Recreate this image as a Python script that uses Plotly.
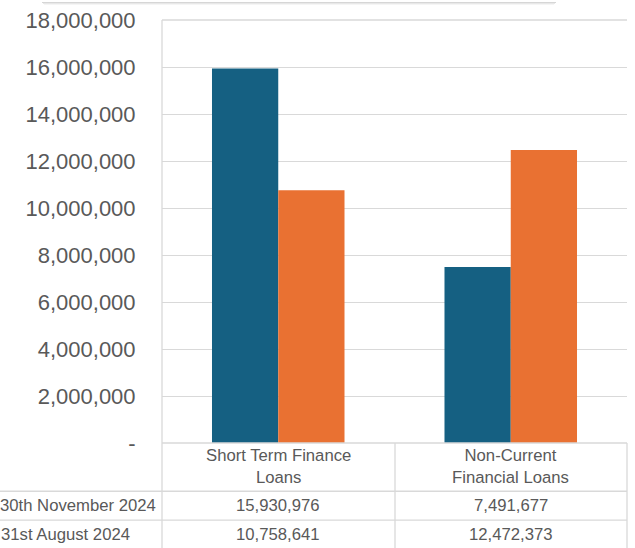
import plotly.graph_objects as go

categories = ["Short Term Finance Loans", "Non-Current Financial Loans"]
category_labels = ["Short Term Finance<br>Loans", "Non-Current<br>Financial Loans"]
series_names = ["30th November 2024", "31st August 2024"]
nov_2024 = [15930976, 7491677]
aug_2024 = [10758641, 12472373]
tick_values = [0, 2000000, 4000000, 6000000, 8000000, 10000000, 12000000, 14000000, 16000000, 18000000]
tick_labels = ["-", "2,000,000", "4,000,000", "6,000,000", "8,000,000", "10,000,000",
               "12,000,000", "14,000,000", "16,000,000", "18,000,000"]

W, H = 635, 548
L, R, T, B = 162, 627, 18, 443
FONT = "Liberation Sans"
TXT = "#595959"
GRID = "#D9D9D9"
BLUE = "#156082"
ORANGE = "#E97132"
TS = 16.7


def px(x):
    return (x - L) / (R - L)


def py(y):
    return (B - y) / (B - T)


fig = go.Figure()
fig.add_trace(go.Bar(x=categories, y=nov_2024, name=series_names[0], marker_color=BLUE,
                     marker_line_width=0, hoverinfo="skip"))
fig.add_trace(go.Bar(x=categories, y=aug_2024, name=series_names[1], marker_color=ORANGE,
                     marker_line_width=0, hoverinfo="skip"))

shapes = []


def line(x0, y0, x1, y1, color=GRID, width=1.3):
    shapes.append(dict(type="line", xref="paper", yref="paper",
                       x0=px(x0), y0=py(y0), x1=px(x1), y1=py(y1),
                       line=dict(color=color, width=width), layer="above"))


# top of plot area and table grid
line(L, T, R, T)
line(L, B, R, B)
line(0, 491.5, R, 491.5)
line(0, 520.5, R, 520.5)
line(L, T, L, 560)
line(395, B, 395, 560)
line(R, B, R, 560)

# top shadow
for i, a in enumerate([0.16, 0.09, 0.04]):
    shapes.append(dict(type="rect", xref="paper", yref="paper",
                       x0=px(42 + i), x1=px(556 - i), y0=py(i), y1=py(i + 1),
                       fillcolor=f"rgba(0,0,0,{a})", line=dict(width=0), layer="above"))

annotations = []
for cat, lab in zip(categories, category_labels):
    annotations.append(dict(x=cat, xref="x", y=py(467), yref="paper", text=lab,
                            showarrow=False, font=dict(family=FONT, size=TS, color=TXT),
                            xanchor="center", yanchor="middle", align="center"))
for cat, v in zip(categories, nov_2024):
    annotations.append(dict(x=cat, xref="x", y=py(506), yref="paper", text=f"{v:,}",
                            showarrow=False, font=dict(family=FONT, size=TS, color=TXT),
                            xanchor="center", yanchor="middle"))
for cat, v in zip(categories, aug_2024):
    annotations.append(dict(x=cat, xref="x", y=py(534.5), yref="paper", text=f"{v:,}",
                            showarrow=False, font=dict(family=FONT, size=TS, color=TXT),
                            xanchor="center", yanchor="middle"))
for name, yy in zip(series_names, [506, 534.5]):
    if name.startswith("30th"):
        annotations.append(dict(x=px(158), xref="paper", y=py(yy), yref="paper", text=name,
                                showarrow=False, font=dict(family=FONT, size=TS, color=TXT),
                                xanchor="right", yanchor="middle"))
    else:
        annotations.append(dict(x=px(-1), xref="paper", y=py(yy), yref="paper", text=name,
                                showarrow=False, font=dict(family=FONT, size=TS, color=TXT),
                                xanchor="left", yanchor="middle"))

fig.update_layout(
    width=W, height=H,
    margin=dict(l=L, r=W - R, t=T, b=H - B, pad=0),
    paper_bgcolor="white", plot_bgcolor="white",
    barmode="group", bargap=0.43, bargroupgap=0,
    showlegend=False, hovermode=False,
    shapes=shapes, annotations=annotations,
    xaxis=dict(showticklabels=False, showgrid=False, zeroline=False, showline=False,
               ticks=""),
    yaxis=dict(range=[0, 18000000], tickvals=tick_values, ticktext=tick_labels,
               showgrid=True, gridcolor=GRID, gridwidth=1.3, zeroline=False,
               showline=False, ticks="outside", ticklen=21, tickcolor="rgba(0,0,0,0)",
               tickfont=dict(family=FONT, size=22, color=TXT)),
)

fig.write_html("out.html", config={"displayModeBar": False},
               post_script="document.body.style.margin='0';document.body.style.overflow='hidden';")
